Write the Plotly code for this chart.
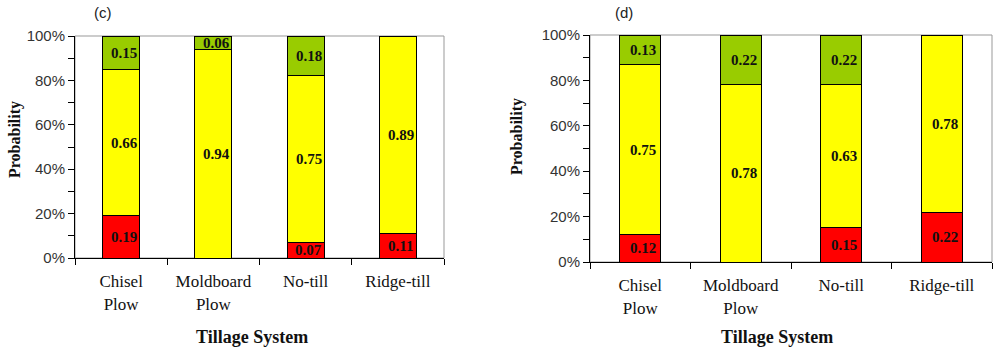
import plotly.graph_objects as go

categories = ["Chisel<br>Plow", "Moldboard<br>Plow", "No-till", "Ridge-till"]

# Panel (c)
c_red = [0.19, 0.00, 0.07, 0.11]
c_yellow = [0.66, 0.94, 0.75, 0.89]
c_green = [0.15, 0.06, 0.18, 0.00]

# Panel (d)
d_red = [0.12, 0.00, 0.15, 0.22]
d_yellow = [0.75, 0.78, 0.63, 0.78]
d_green = [0.13, 0.22, 0.22, 0.00]

panel_labels = ["(c)", "(d)"]
colors = ["#FF0000", "#FFFF00", "#99CC00"]

W, H = 1000, 351


def px(x):
    return x / W


def py(y):
    return 1 - y / H


panels = [
    dict(series=[c_red, c_yellow, c_green], x0=75, x1=444, ytop=36, ybot=258, bw=0.40,
         lab_x=103, ttl_x=252, prob_x=15, prob_y=140),
    dict(series=[d_red, d_yellow, d_green], x0=590, x1=992, ytop=35, ybot=262, bw=0.41,
         lab_x=624, ttl_x=777, prob_x=517, prob_y=137),
]

fig = go.Figure()
annotations = []
shapes = []
serif = "Liberation Serif"
sans = "Liberation Sans"

for i, p in enumerate(panels):
    xa = "x" if i == 0 else "x2"
    ya = "y" if i == 0 else "y2"
    for s, col in zip(p["series"], colors):
        fig.add_trace(go.Bar(
            x=categories, y=s, marker=dict(color=col, line=dict(color="#000000", width=1)),
            width=p["bw"], xaxis=xa, yaxis=ya, showlegend=False, hoverinfo="skip",
        ))
    # value labels
    base = [0.0] * len(categories)
    for s in p["series"]:
        for k, v in enumerate(s):
            if v > 0:
                annotations.append(dict(
                    x=categories[k], y=base[k] + v / 2, xref=xa, yref=ya,
                    text=f"<b>{v:.2f}</b>", showarrow=False, xshift=3,
                    xanchor="center", yanchor="middle",
                    font=dict(family=serif, size=15, color="#111111"),
                ))
            base[k] += v
    axkey = "" if i == 0 else "2"
    dom_x = [px(p["x0"]), px(p["x1"])]
    dom_y = [py(p["ybot"]), py(p["ytop"])]
    fig.update_layout(**{
        f"xaxis{axkey}": dict(
            domain=dom_x, anchor=ya, type="category", showline=True, linecolor="#000000",
            linewidth=1, ticks="outside", tickson="boundaries", ticklen=6, tickcolor="#000000",
            tickfont=dict(family=serif, size=17, color="#111111"), ticklabelstandoff=8,
            showgrid=False, zeroline=False, fixedrange=True, automargin=False,
        ),
        f"yaxis{axkey}": dict(
            domain=dom_y, anchor=xa, range=[0, 1], dtick=0.2, tickformat=".0%",
            showline=True, linecolor="#000000", linewidth=1, ticks="outside", ticklen=6,
            tickcolor="#000000", showgrid=False, zeroline=False, automargin=False,
            fixedrange=True,
            minor=dict(dtick=0.1, ticks="outside", ticklen=6, tickcolor="#000000"),
            tickfont=dict(family=sans, size=15, color="#333333"),
        ),
    })
    # gray frame (top/right)
    shapes.append(dict(type="rect", xref=f"{xa} domain", yref=f"{ya} domain",
                       x0=0, x1=1, y0=0, y1=1, line=dict(color="#999999", width=1),
                       layer="below"))
    annotations.append(dict(x=px(p["lab_x"]), y=py(13), xref="paper", yref="paper",
                            text=panel_labels[i], showarrow=False,
                            xanchor="center", yanchor="middle",
                            font=dict(family=sans, size=15, color="#222222")))
    annotations.append(dict(x=px(p["ttl_x"]), y=py(337), xref="paper", yref="paper",
                            text="<b>Tillage System</b>", showarrow=False,
                            xanchor="center", yanchor="middle",
                            font=dict(family=serif, size=18, color="#111111")))
    annotations.append(dict(x=px(p["prob_x"]), y=py(p["prob_y"]), xref="paper",
                            yref="paper", text="<b>Probability</b>", showarrow=False,
                            textangle=-90, xanchor="center", yanchor="middle",
                            font=dict(family=serif, size=16, color="#111111")))

fig.update_layout(
    width=W, height=H, barmode="stack", bargap=0.6,
    margin=dict(l=0, r=0, t=0, b=0),
    paper_bgcolor="#FFFFFF", plot_bgcolor="#FFFFFF",
    annotations=annotations, shapes=shapes,
)

fig.write_html(
    "out.html",
    config={"displayModeBar": False},
    post_script="document.body.style.margin='0';document.body.style.overflow='hidden';",
)
